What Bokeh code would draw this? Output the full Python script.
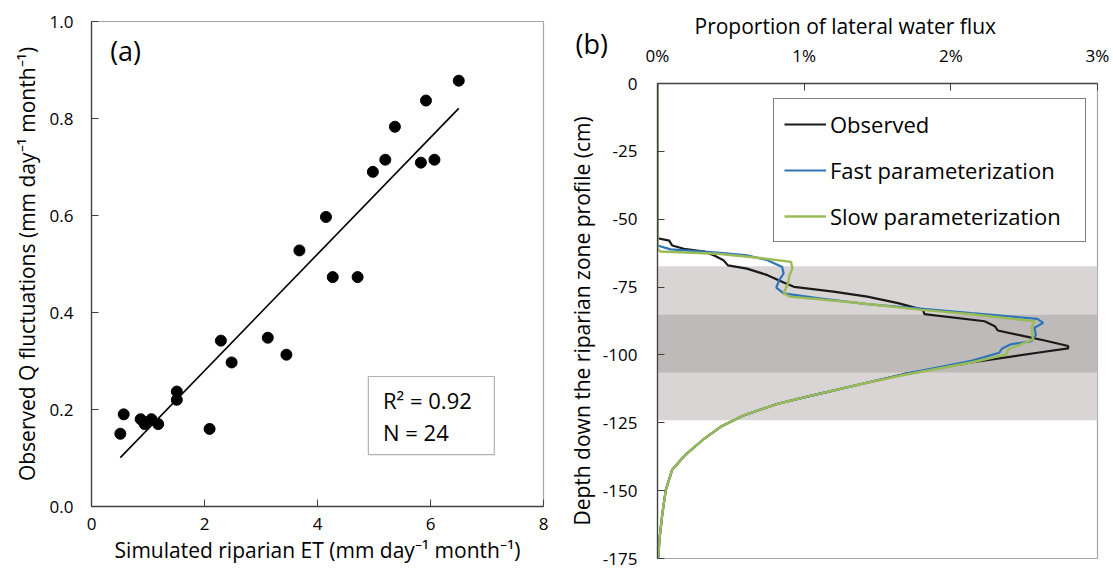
import numpy as np
from bokeh.plotting import figure
from bokeh.layouts import row, column
from bokeh.models import Label, BoxAnnotation, FixedTicker, Legend, LegendItem, Title
from bokeh.embed import file_html
from bokeh.resources import INLINE

# ---------------- Panel (a) data ----------------
sim_et = [0.51, 0.57, 0.87, 0.94, 1.06, 1.18, 1.51, 1.51, 2.09, 2.29, 2.48, 3.12,
          3.45, 3.68, 4.27, 4.71, 4.15, 4.98, 5.20, 5.37, 5.83, 6.07, 5.92, 6.50]
obs_q = [0.150, 0.190, 0.180, 0.170, 0.180, 0.170, 0.237, 0.220, 0.160, 0.342, 0.297, 0.348,
         0.313, 0.528, 0.473, 0.473, 0.597, 0.690, 0.715, 0.783, 0.709, 0.715, 0.837, 0.878]
stats_text = ["R\u00b2 = 0.92", "N = 24"]
a_xticks = [0, 2, 4, 6, 8]
a_yticks = [0.0, 0.2, 0.4, 0.6, 0.8, 1.0]

# ---------------- Panel (b) data ----------------
# depth (cm) and proportion of lateral water flux (%)
tail_depth = [-110.7, -115.0, -118.0, -122.2, -126.5, -130.8, -136.8, -142.3,
              -149.6, -158.1, -166.6, -175.0]
tail_value = [1.39, 1.05, 0.82, 0.59, 0.43, 0.32, 0.19, 0.10,
              0.057, 0.034, 0.016, 0.004]

obs_depth = [0, -57.0, -57.9, -59.7, -60.9, -61.9, -63.5, -65.1, -67.0, -68.2, -70.6,
             -73.3, -74.9, -76.7, -78.5, -80.9, -83.4, -85.0, -87.6, -89.4, -91.0,
             -93.1, -94.7, -96.7, -97.6, -99.2, -102.8, -107.1]
obs_value = [0, 0, 0.08, 0.10, 0.18, 0.32, 0.39, 0.45, 0.48, 0.61, 0.75,
             0.86, 0.93, 1.20, 1.43, 1.64, 1.81, 1.82, 2.23, 2.30, 2.32,
             2.50, 2.64, 2.80, 2.80, 2.59, 2.14, 1.68]

fast_depth = [0, -59.7, -61.1, -62.3, -63.3, -65.1, -67.6, -70.0, -72.4, -75.2, -77.3,
              -79.1, -81.3, -83.0, -84.6, -86.7, -88.2, -90.0, -92.7, -94.9, -96.1,
              -97.6, -99.2, -102.2, -107.1]
fast_value = [0, 0, 0.09, 0.41, 0.61, 0.75, 0.85, 0.86, 0.83, 0.81, 0.86,
              1.09, 1.43, 1.81, 2.14, 2.59, 2.63, 2.57, 2.58, 2.55, 2.41,
              2.35, 2.33, 2.14, 1.68]

slow_depth = [0, -60.9, -61.9, -62.7, -64.3, -65.7, -68.2, -70.6, -73.6, -77.3, -78.5,
              -80.6, -83.4, -85.0, -87.6, -90.0, -94.3, -98.0, -99.8, -102.8, -107.4]
slow_value = [0, 0, 0.02, 0.41, 0.70, 0.91, 0.92, 0.90, 0.89, 0.86, 0.90,
              1.32, 1.80, 2.14, 2.57, 2.55, 2.56, 2.39, 2.38, 2.14, 1.68]

light_band = [-67.3, -124.1]
dark_band = [-85.2, -106.5]
b_xticks = [0, 1, 2, 3]
b_xlabels = ["0%", "1%", "2%", "3%"]
b_yticks = [0, -25, -50, -75, -100, -125, -150, -175]

FONT = "Open Sans"
AX_DARK = "#404040"
OUTLINE = "#a6a6a6"


def style_axis(ax):
    ax.major_tick_in = 7
    ax.major_tick_out = 0
    ax.minor_tick_line_color = None
    ax.axis_line_color = AX_DARK
    ax.axis_line_width = 1.3
    ax.major_tick_line_color = AX_DARK
    ax.major_label_text_font = FONT
    ax.major_label_text_font_size = "17px"
    ax.major_label_text_color = "black"
    ax.axis_label_text_font = FONT
    ax.axis_label_text_font_size = "21px"
    ax.axis_label_text_font_style = "normal"
    ax.axis_label_text_color = "black"


# ================= Panel (a) =================
p1 = figure(width=560, height=569, x_range=(0, 8), y_range=(0, 1.0),
            output_backend="svg", toolbar_location=None,
            min_border_left=91, min_border_right=17, min_border_top=21, min_border_bottom=63)
p1.grid.visible = False
p1.outline_line_color = OUTLINE
p1.outline_line_width = 1.2

fit = np.polyfit(sim_et, obs_q, 1)
xl = np.array([min(sim_et), max(sim_et)])
p1.line(xl, fit[0] * xl + fit[1], line_color="black", line_width=1.6)
p1.scatter(sim_et, obs_q, size=11, color="black")

p1.xaxis.ticker = FixedTicker(ticks=a_xticks)
p1.yaxis.ticker = FixedTicker(ticks=a_yticks)
p1.yaxis.major_label_overrides = {t: f"{t:.1f}" for t in a_yticks}
p1.xaxis.axis_label = "Simulated riparian ET (mm day\u207b\u00b9 month\u207b\u00b9)"
p1.yaxis.axis_label = "Observed Q fluctuations (mm day\u207b\u00b9 month\u207b\u00b9)"
style_axis(p1.xaxis)
style_axis(p1.yaxis)
p1.xaxis.major_label_standoff = 11
p1.xaxis.axis_label_standoff = 3
p1.yaxis.major_label_standoff = 18
p1.yaxis.axis_label_standoff = 6

p1.add_layout(Label(x=0.33, y=0.94, text="(a)", text_font=FONT, text_font_size="27px",
                    text_baseline="middle", text_align="left", text_color="black"))
p1.add_layout(BoxAnnotation(left=4.90, right=7.13, bottom=0.107, top=0.268,
                            fill_color="white", fill_alpha=1.0,
                            line_color="black", line_width=1.2))
p1.add_layout(Label(x=5.16, y=0.2206, text=stats_text[0], text_font=FONT, text_font_size="22px",
                    text_baseline="middle", text_align="left", text_color="black"))
p1.add_layout(Label(x=5.16, y=0.1526, text=stats_text[1], text_font=FONT, text_font_size="22px",
                    text_baseline="middle", text_align="left", text_color="black"))

# ================= Panel (b) =================
p2 = figure(width=552, height=569, x_range=(0, 3), y_range=(-175, 0),
            x_axis_location="above",
            output_backend="svg", toolbar_location=None,
            min_border_left=97, min_border_right=15, min_border_top=83, min_border_bottom=11)
p2.grid.visible = False
p2.outline_line_color = OUTLINE
p2.outline_line_width = 1.2

p2.add_layout(BoxAnnotation(top=light_band[0], bottom=light_band[1], fill_color="#d9d5d5",
                            fill_alpha=1.0, line_color=None, level="underlay"))
p2.add_layout(BoxAnnotation(top=dark_band[0], bottom=dark_band[1], fill_color="#bfbaba",
                            fill_alpha=1.0, line_color=None, level="underlay"))

r_obs = p2.line(obs_value + tail_value, obs_depth + tail_depth, line_color="#1a1a1a", line_width=2.2)
r_fast = p2.line(fast_value + tail_value, fast_depth + tail_depth, line_color="#2e75b6", line_width=2.2)
r_slow = p2.line(slow_value + tail_value, slow_depth + tail_depth, line_color="#9bbb59", line_width=2.4)

p2.xaxis.ticker = FixedTicker(ticks=b_xticks)
p2.xaxis.major_label_overrides = dict(zip(b_xticks, b_xlabels))
p2.yaxis.ticker = FixedTicker(ticks=b_yticks)
p2.yaxis.major_label_overrides = {t: str(t) for t in b_yticks}
p2.yaxis.axis_label = "Depth down the riparian zone profile (cm)"
style_axis(p2.xaxis)
style_axis(p2.yaxis)
p2.xaxis.major_label_standoff = 17
p2.yaxis.major_label_standoff = 20
p2.yaxis.axis_label_standoff = 4

# titles stacked above the top axis: "(b)" (pulled down) and the axis title
p2.add_layout(Title(text="(b)", align="left", offset=-82, standoff=-42,
                    vertical_align="bottom", text_font=FONT, text_font_size="27px",
                    text_font_style="normal", text_color="black"), "above")
p2.add_layout(Title(text="Proportion of lateral water flux", align="left", offset=37, standoff=2,
                    vertical_align="bottom", text_font=FONT, text_font_size="21px",
                    text_font_style="normal", text_color="black"), "above")

legend = Legend(items=[LegendItem(label="Observed", renderers=[r_obs]),
                       LegendItem(label="Fast parameterization", renderers=[r_fast]),
                       LegendItem(label="Slow parameterization", renderers=[r_slow])],
                location=(116, 316))
legend.border_line_color = "black"
legend.border_line_width = 1.3
legend.background_fill_alpha = 1.0
legend.padding = 10
legend.spacing = 16
legend.glyph_width = 42
legend.glyph_height = 28
legend.label_height = 28
legend.label_width = 245
legend.label_standoff = 4
legend.label_text_font = FONT
legend.label_text_font_size = "22px"
legend.label_text_color = "black"
p2.add_layout(legend)

layout = row(column(p1), column(p2))
open("out.html", "w").write(file_html(layout, INLINE))
